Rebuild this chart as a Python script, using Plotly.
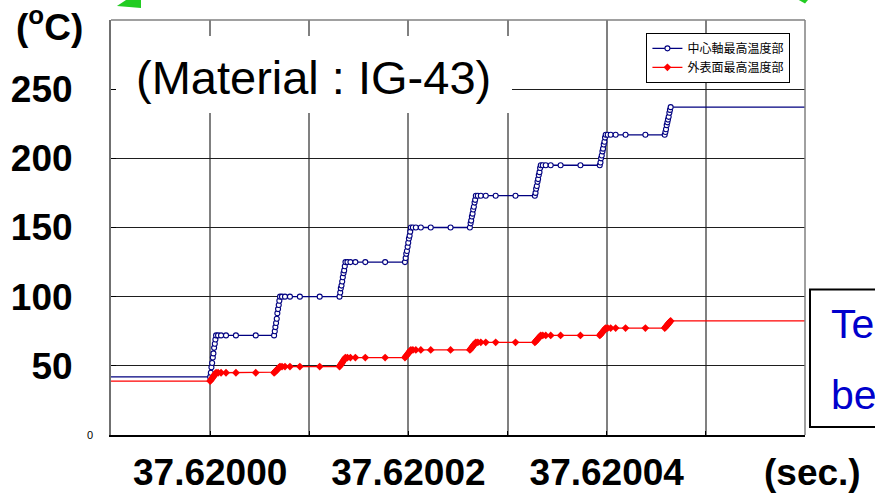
import plotly.graph_objects as go

# ---- data (time offsets in microseconds from 37.62 s) ----
time_us = [
    -30.0,
    0.00, 0.07, 0.13, 0.20, 0.27, 0.33, 0.40, 0.47, 0.53, 0.60, 0.80, 1.10, 1.60, 2.60, 4.60,
    6.45, 6.52, 6.58, 6.65, 6.72, 6.78, 6.85, 6.92, 6.98, 7.05, 7.25, 7.55, 8.05, 9.05, 11.05,
    13.05, 13.12, 13.18, 13.25, 13.32, 13.38, 13.45, 13.52, 13.58, 13.65, 13.85, 14.15, 14.65, 15.65, 17.65,
    19.65, 19.72, 19.78, 19.85, 19.92, 19.98, 20.05, 20.12, 20.18, 20.25, 20.45, 20.75, 21.25, 22.25, 24.25,
    26.20, 26.27, 26.33, 26.40, 26.47, 26.53, 26.60, 26.67, 26.73, 26.80, 27.00, 27.30, 27.80, 28.80, 30.80,
    32.75, 32.82, 32.88, 32.95, 33.02, 33.08, 33.15, 33.22, 33.28, 33.35, 33.55, 33.85, 34.35, 35.35, 37.35,
    39.30, 39.37, 39.43, 39.50, 39.57, 39.63, 39.70, 39.77, 39.83, 39.90, 40.10, 40.40, 40.90, 41.90, 43.90,
    45.85, 45.92, 45.98, 46.05, 46.12, 46.18, 46.25, 46.32, 46.38, 46.45,
    80.0,
]

center_axis_temp = [
    42,
    42, 45, 49, 52, 56, 59, 63, 66, 69, 72, 72, 72, 72, 72, 72,
    72, 75, 78, 81, 84, 88, 91, 94, 97, 100, 100, 100, 100, 100, 100,
    100, 103, 106, 108, 111, 114, 117, 119, 122, 125, 125, 125, 125, 125, 125,
    125, 128, 131, 133, 136, 139, 142, 144, 147, 150, 150, 150, 150, 150, 150,
    150, 153, 155, 158, 160, 163, 165, 168, 170, 173, 173, 173, 173, 173, 173,
    173, 175, 178, 180, 183, 185, 188, 190, 193, 195, 195, 195, 195, 195, 195,
    195, 197, 200, 202, 205, 207, 210, 212, 215, 217, 217, 217, 217, 217, 217,
    217, 219, 221, 224, 226, 228, 230, 233, 235, 237,
    237,
]

outer_surface_temp = [
    39,
    39, 39.7, 40.3, 41, 41.7, 42.3, 43, 43.7, 44.3, 45, 45, 45, 45, 45, 45,
    45, 45.5, 46, 46.5, 47, 47.5, 48, 48.5, 49, 49.5, 49.5, 49.5, 49.5, 49.5, 49.5,
    49.5, 50.2, 50.9, 51.7, 52.4, 53.1, 53.8, 54.6, 55.3, 56, 56, 56, 56, 56, 56,
    56, 56.6, 57.2, 57.8, 58.4, 59.1, 59.7, 60.3, 60.9, 61.5, 61.5, 61.5, 61.5, 61.5, 61.5,
    61.5, 62.1, 62.7, 63.3, 63.9, 64.6, 65.2, 65.8, 66.4, 67, 67, 67, 67, 67, 67,
    67, 67.6, 68.1, 68.7, 69.2, 69.8, 70.3, 70.9, 71.4, 72, 72, 72, 72, 72, 72,
    72, 72.6, 73.2, 73.8, 74.4, 74.9, 75.5, 76.1, 76.7, 77.3, 77.3, 77.3, 77.3, 77.3, 77.3,
    77.3, 77.9, 78.5, 79, 79.6, 80.2, 80.8, 81.3, 81.9, 82.5,
    82.5,
]

series_names = ["中心軸最高温度部", "外表面最高温度部"]

x_tick_vals = [37.61999, 37.62000, 37.62001, 37.62002, 37.62003, 37.62004, 37.62005, 37.62006]
x_tick_text = ["", "37.62000", "", "37.62002", "", "37.62004", "", ""]
y_tick_vals = [0, 50, 100, 150, 200, 250]
y_tick_text = ["", "50", "100", "150", "200", "250"]

time_s = [37.62 + v * 1e-6 for v in time_us]

ARIAL = "Liberation Sans, Arial, sans-serif"

fig = go.Figure()
fig.add_trace(go.Scatter(
    x=time_s, y=center_axis_temp, mode="lines+markers", name=series_names[0],
    line=dict(color="#000080", width=1.3),
    marker=dict(symbol="circle", size=5, color="white", line=dict(color="#000080", width=1.1)),
))
fig.add_trace(go.Scatter(
    x=time_s, y=outer_surface_temp, mode="lines+markers", name=series_names[1],
    line=dict(color="#FF0000", width=1.3),
    marker=dict(symbol="diamond", size=6, color="#FF0000", line=dict(width=0)),
))

fig.update_layout(
    width=875, height=493, autosize=False,
    margin=dict(l=111, r=70, t=20, b=58, autoexpand=False),
    paper_bgcolor="white", plot_bgcolor="white",
    font=dict(family=ARIAL, color="black"),
    showlegend=True,
    legend=dict(
        x=0.979, xanchor="right", y=0.969, yanchor="top",
        bgcolor="white", bordercolor="black", borderwidth=1,
        font=dict(family="Noto Sans CJK JP", size=12, color="black"),
        itemwidth=30, tracegroupgap=0,
    ),
    xaxis=dict(
        range=[37.61999, 37.62006], tickmode="array",
        tickvals=x_tick_vals, ticktext=x_tick_text,
        showgrid=True, gridcolor="#808080", gridwidth=1.5,
        showline=True, linecolor="black", linewidth=2,
        ticks="inside", ticklen=4, tickcolor="black",
        tickfont=dict(family=ARIAL, size=37, color="black", weight="bold"),
        ticklabelstandoff=4, zeroline=False, automargin=False,
    ),
    yaxis=dict(
        range=[0, 300], tickmode="array",
        tickvals=y_tick_vals, ticktext=y_tick_text,
        showgrid=True, gridcolor="#1e1e1e", gridwidth=1,
        showline=True, linecolor="#707070", linewidth=2,
        ticks="inside", ticklen=5, tickcolor="black",
        tickfont=dict(family=ARIAL, size=37, color="black", weight="bold"),
        ticklabelstandoff=29, zeroline=False, automargin=False,
    ),
    shapes=[
        # white box behind the material label
        dict(type="rect", xref="paper", yref="paper", x0=0.0072, x1=0.5778, y0=0.776, y1=0.9614,
             fillcolor="white", line=dict(width=0), layer="above"),
        # top / right frame
        dict(type="line", xref="paper", yref="paper", x0=0, x1=1, y0=1, y1=1,
             line=dict(color="#808080", width=1.5), layer="above"),
        dict(type="line", xref="paper", yref="paper", x0=1, x1=1, y0=0, y1=1,
             line=dict(color="#808080", width=1.5), layer="above"),
        # right text box
        dict(type="rect", xref="paper", yref="paper", x0=1.0072, x1=1.2, y0=0.0193, y1=0.3506,
             fillcolor="white", line=dict(color="black", width=2), layer="above"),
        # green arrow fragments at top edge
        dict(type="path", xref="paper", yref="paper",
             path="M 0.0086 1.0337 L 0.0216 1.048 L 0.0432 1.048 L 0.0432 1.0289 Z",
             fillcolor="#22CC22", line=dict(width=0), layer="above"),
        dict(type="path", xref="paper", yref="paper",
             path="M 0.991 1.048 L 1.0043 1.048 L 1.0 1.040 Z",
             fillcolor="#22CC22", line=dict(width=0), layer="above"),
    ],
    annotations=[
        dict(text="(Material : IG-43)", xref="paper", yref="paper", x=0.2925, y=0.862,
             xanchor="center", yanchor="middle", showarrow=False,
             font=dict(family=ARIAL, size=47, color="black")),
        dict(text="<b>(<sup>o</sup>C)</b>", xref="paper", yref="paper", x=-0.088, y=0.99,
             xanchor="center", yanchor="middle", showarrow=False,
             font=dict(family=ARIAL, size=37, color="black")),
        dict(text="0", xref="paper", yref="y", x=-0.023, y=0,
             xanchor="right", yanchor="middle", showarrow=False,
             font=dict(family=ARIAL, size=11, color="black")),
        dict(text="<b>(sec.)</b>", xref="paper", yref="paper", x=1.0115, y=-0.09,
             xanchor="center", yanchor="middle", showarrow=False,
             font=dict(family=ARIAL, size=37, color="black")),
        dict(text="Te", xref="paper", yref="paper", x=1.0346, y=0.268,
             xanchor="left", yanchor="middle", showarrow=False,
             font=dict(family=ARIAL, size=41, color="#0000CC")),
        dict(text="be", xref="paper", yref="paper", x=1.0346, y=0.097,
             xanchor="left", yanchor="middle", showarrow=False,
             font=dict(family=ARIAL, size=41, color="#0000CC")),
    ],
)

fig.write_html("out.html")
